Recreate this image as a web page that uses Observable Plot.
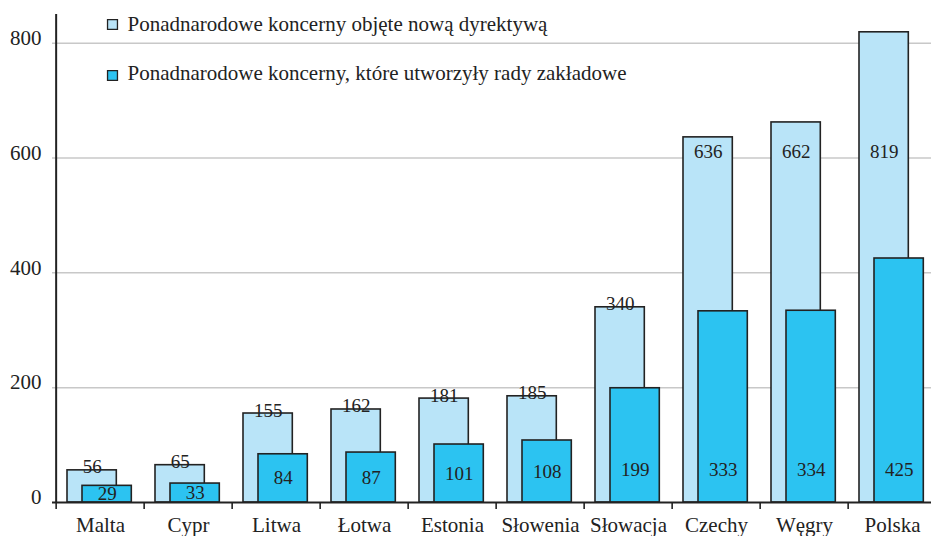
<!DOCTYPE html>
<html>
<head>
<meta charset="utf-8">
<script src="https://cdn.jsdelivr.net/npm/d3@7"></script>
<script src="https://cdn.jsdelivr.net/npm/@observablehq/plot@0.6"></script>
<style>
  html, body { margin: 0; padding: 0; background: #fff; overflow: hidden; }
  svg text { font-family: "Liberation Serif", "Times New Roman", serif; }
</style>
</head>
<body>
<div id="chart"></div>
<script>
const categories = ["Malta", "Cypr", "Litwa", "Łotwa", "Estonia", "Słowenia", "Słowacja", "Czechy", "Węgry", "Polska"];
const covered = [56, 65, 155, 162, 181, 185, 340, 636, 662, 819];
const withCouncils = [29, 33, 84, 87, 101, 108, 199, 333, 334, 425];
const yTicks = [0, 200, 400, 600, 800];
const gridValues = [200, 400, 600, 800];
const legendLabels = [
  "Ponadnarodowe koncerny objęte nową dyrektywą",
  "Ponadnarodowe koncerny, które utworzyły rady zakładowe"
];

const data = categories.map((c, i) => ({country: c, covered: covered[i], councils: withCouncils[i]}));

const W = 931, H = 536;
const left = 52, right = 939;
const bw = (right - left) / categories.length;
const lightColor = "#b9e4f8";
const darkColor = "#2cc3f1";
const ink = "#222";
const font = "Liberation Serif";

const chart = Plot.plot({
  width: W,
  height: H,
  marginLeft: left,
  marginRight: W - right,
  marginTop: 14,
  marginBottom: 34,
  style: {fontFamily: font, fontSize: "21px", color: ink, background: "#fff", overflow: "hidden"},
  x: {domain: categories, padding: 0, label: null},
  y: {domain: [0, 850], label: null},
  marks: [
    Plot.ruleY(gridValues, {stroke: "#c8c8c8", strokeWidth: 1.5}),
    Plot.barY(data, {x: "country", y: "covered", fill: lightColor, stroke: ink, strokeWidth: 1.6, insetLeft: 11, insetRight: bw - 61}),
    Plot.barY(data, {x: "country", y: "councils", fill: darkColor, stroke: ink, strokeWidth: 1.6, insetLeft: 26, insetRight: bw - 76}),
    Plot.text(data.filter(d => d.covered < 600), {x: "country", y: "covered", text: d => String(d.covered), dx: 36 - bw / 2, dy: 3, lineAnchor: "bottom", fontSize: 19, fontFamily: font, fill: ink}),
    Plot.text(data.filter(d => d.covered >= 600), {x: "country", y: () => 610, text: d => String(d.covered), dx: 36 - bw / 2, lineAnchor: "middle", fontSize: 19, fontFamily: font, fill: ink}),
    Plot.text(data, {x: "country", y: d => Math.min(56, d.councils / 2), text: d => String(d.councils), dx: 51 - bw / 2, lineAnchor: "middle", fontSize: 19, fontFamily: font, fill: ink}),
    Plot.ruleY([0], {stroke: ink, strokeWidth: 2}),
    Plot.ruleX([categories[0]], {dx: -bw / 2, stroke: ink, strokeWidth: 2}),
    Plot.axisX({tickSize: 7, text: null, label: null, dx: -bw / 2, stroke: ink, strokeWidth: 1.6}),
    Plot.axisX({tickSize: 0, tickPadding: 15, label: null, fontSize: 21, fontFamily: font, fill: ink}),
    Plot.axisY({ticks: yTicks, tickSize: 0, tickPadding: 11, label: null, dy: -5, fontSize: 21, fontFamily: font, fill: ink}),
    Plot.dot(legendLabels, {frameAnchor: "top-left", dx: 60, dy: 10, symbol: "square", r: 5.6, fill: lightColor, stroke: ink, strokeWidth: 1.3, filter: (d, i) => i === 0}),
    Plot.dot(legendLabels, {frameAnchor: "top-left", dx: 60, dy: 61, symbol: "square", r: 5.6, fill: darkColor, stroke: ink, strokeWidth: 1.3, filter: (d, i) => i === 1}),
    Plot.text(legendLabels, {frameAnchor: "top-left", dx: 75, dy: 10, text: d => d, textAnchor: "start", lineAnchor: "middle", fontSize: 21, fontFamily: font, fill: ink, filter: (d, i) => i === 0}),
    Plot.text(legendLabels, {frameAnchor: "top-left", dx: 75, dy: 59, text: d => d, textAnchor: "start", lineAnchor: "middle", fontSize: 21, fontFamily: font, fill: ink, filter: (d, i) => i === 1})
  ]
});
document.getElementById("chart").appendChild(chart);
</script>
</body>
</html>
